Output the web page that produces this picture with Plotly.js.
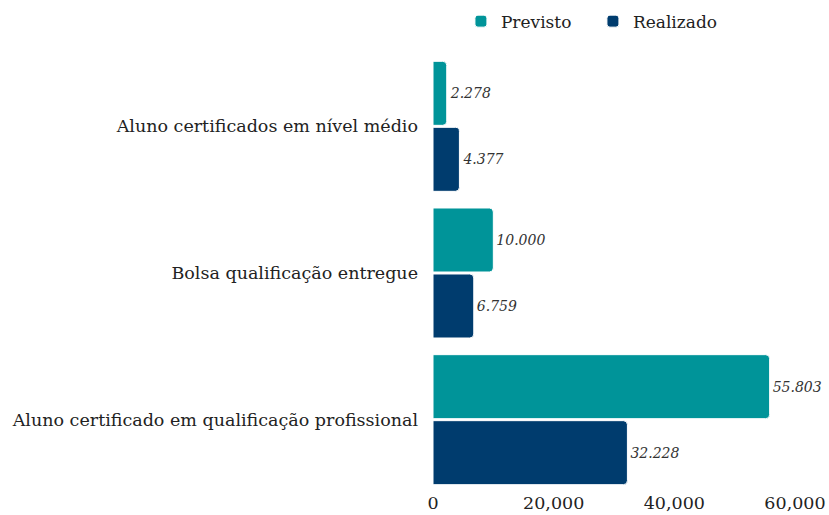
<!DOCTYPE html>
<html>
<head>
<meta charset="utf-8">
<script src="https://cdn.plot.ly/plotly-3.0.1.min.js"></script>
<style>html,body{margin:0;padding:0;background:#fff;}#chart{width:829px;height:515px;}</style>
</head>
<body>
<div id="chart"></div>
<script>
const categories = ["Aluno certificados em nível médio", "Bolsa qualificação entregue", "Aluno certificado em qualificação profissional"];
const previsto = [2278, 10000, 55803];
const realizado = [4377, 6759, 32228];
const seriesNames = ["Previsto", "Realizado"];
const tickVals = [0, 20000, 40000, 60000];
const tickText = ["0", "20,000", "40,000", "60,000"];

function fmtBR(v) {
  return v.toString().replace(/\B(?=(\d{3})+(?!\d))/g, ".");
}

const font = "DejaVu Serif";
const common = {
  type: "bar",
  orientation: "h",
  y: categories,
  textposition: "outside",
  cliponaxis: false,
  textfont: {family: font, size: 14, color: "#333333", style: "italic"},
  hoverinfo: "x+y"
};
const traces = [
  Object.assign({}, common, {
    name: seriesNames[0], x: previsto, text: previsto.map(fmtBR),
    marker: {color: "#009499", line: {color: "#ffffff", width: 1}}
  }),
  Object.assign({}, common, {
    name: seriesNames[1], x: realizado, text: realizado.map(fmtBR),
    marker: {color: "#003c6e", line: {color: "#ffffff", width: 1}}
  })
];

const layout = {
  width: 829, height: 515,
  margin: {l: 433, r: 28, t: 53, b: 22},
  paper_bgcolor: "#ffffff", plot_bgcolor: "#ffffff",
  barmode: "group",
  bargap: 0.1,
  bargroupgap: 0.03,
  barcornerradius: 4,
  font: {family: font, size: 16, color: "#222222"},
  showlegend: true,
  legend: {
    orientation: "h", x: 0.556, xref: "container", xanchor: "left", y: 0.993, yref: "container", yanchor: "top",
    font: {family: font, size: 17, color: "#222222"},
    entrywidth: 87, entrywidthmode: "pixels"
  },
  xaxis: {
    range: [0, 61000], tickvals: tickVals, ticktext: tickText,
    showgrid: false, zeroline: false, showline: false, ticks: "",
    ticklabelstandoff: -3,
    tickfont: {family: font, size: 17.5, color: "#222222"}
  },
  yaxis: {
    autorange: "reversed", showgrid: false, zeroline: false, showline: false, ticks: "",
    ticklabelstandoff: 14,
    tickfont: {family: font, size: 17.5, color: "#222222"}
  }
};

Plotly.newPlot("chart", traces, layout, {displayModeBar: false, staticPlot: true});
</script>
</body>
</html>
